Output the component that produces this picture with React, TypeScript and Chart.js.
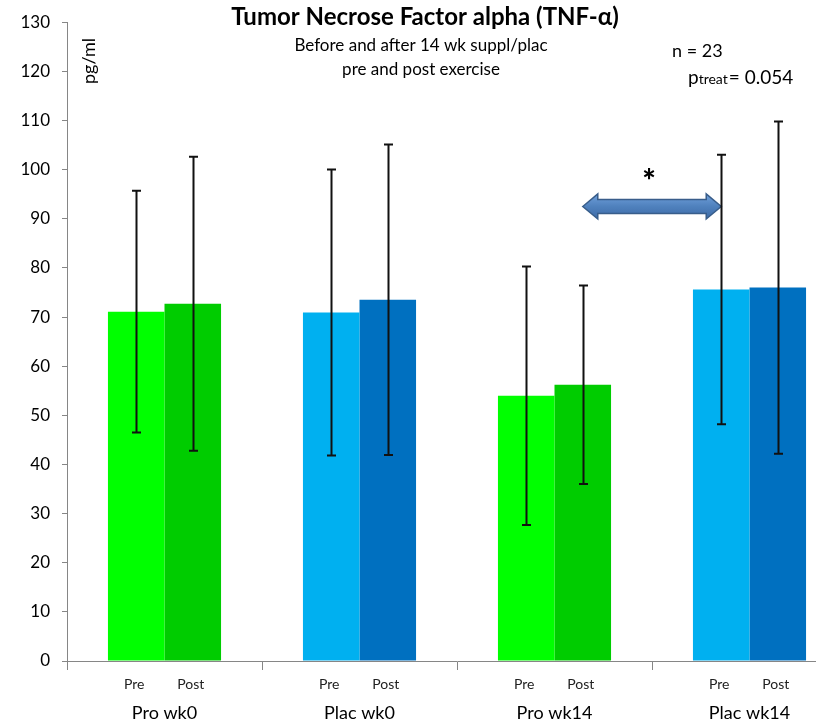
import React, { useEffect, useRef } from 'react';
import { Chart, registerables } from 'chart.js';

Chart.register(...registerables);

// ---- data ----
const groups = ['Pro wk0', 'Plac wk0', 'Pro wk14', 'Plac wk14'];
const phases = ['Pre', 'Post'];
const preMeans = [71.1, 70.9, 54.0, 75.6];
const postMeans = [72.7, 73.5, 56.2, 76.0];
const preSD = [24.6, 29.1, 26.3, 27.4];
const postSD = [29.9, 31.6, 20.2, 33.8];
const preColors = ['#00FF00', '#00B0F0', '#00FF00', '#00B0F0'];
const postColors = ['#00CC00', '#0070C0', '#00CC00', '#0070C0'];
const yMin = 0;
const yMax = 130;
const yStep = 10;
const titleText = 'Tumor Necrose Factor alpha (TNF-\u03b1)';
const subtitleLines = ['Before and after 14 wk suppl/plac', 'pre and post exercise'];
const unitLabel = 'pg/ml';
const nText = 'n = 23';
const pSub = 'treat';
const pValue = '= 0.054';
// significance arrow: from Pro wk14 Post (dataset 1, index 2) to Plac wk14 Pre (dataset 0, index 3)
const sigFrom = { dataset: 1, index: 2 };
const sigTo = { dataset: 0, index: 3 };
const sigLevel = 92.5;

const FONT = 'Lato, "Open Sans", sans-serif';

const overlayPlugin = {
  id: 'overlay',
  afterDatasetsDraw(chart: any) {
    const ctx = chart.ctx;
    const y = chart.scales.y;
    const area = chart.chartArea;
    const sds = [preSD, postSD];
    const means = [preMeans, postMeans];

    // arrow
    const m0 = chart.getDatasetMeta(sigFrom.dataset).data[sigFrom.index];
    const m1 = chart.getDatasetMeta(sigTo.dataset).data[sigTo.index];
    const x1 = m0.x;
    const x2 = m1.x;
    const ay = y.getPixelForValue(sigLevel);
    const hl = 15, hh = 12.5, sh = 7;
    ctx.save();
    ctx.beginPath();
    ctx.moveTo(x1, ay);
    ctx.lineTo(x1 + hl, ay - hh);
    ctx.lineTo(x1 + hl, ay - sh);
    ctx.lineTo(x2 - hl, ay - sh);
    ctx.lineTo(x2 - hl, ay - hh);
    ctx.lineTo(x2, ay);
    ctx.lineTo(x2 - hl, ay + hh);
    ctx.lineTo(x2 - hl, ay + sh);
    ctx.lineTo(x1 + hl, ay + sh);
    ctx.lineTo(x1 + hl, ay + hh);
    ctx.closePath();
    const g = ctx.createLinearGradient(0, ay - hh, 0, ay + hh);
    g.addColorStop(0, '#6f9fda');
    g.addColorStop(0.5, '#4f81bd');
    g.addColorStop(1, '#3d6aa6');
    ctx.fillStyle = g;
    ctx.fill();
    ctx.strokeStyle = '#385d8a';
    ctx.lineWidth = 1.5;
    ctx.stroke();
    ctx.fillStyle = '#000';
    ctx.font = `900 32px ${FONT}`;
    ctx.textAlign = 'center';
    ctx.textBaseline = 'middle';
    ctx.fillText('*', (x1 + x2) / 2 - 3, ay - 25);
    ctx.restore();

    // error bars
    ctx.save();
    ctx.strokeStyle = '#111';
    ctx.lineWidth = 2;
    for (let d = 0; d < 2; d++) {
      const meta = chart.getDatasetMeta(d);
      meta.data.forEach((bar: any, i: number) => {
        const top = y.getPixelForValue(means[d][i] + sds[d][i]);
        const bot = y.getPixelForValue(means[d][i] - sds[d][i]);
        const x = Math.round(bar.x) + 0.5;
        ctx.beginPath();
        ctx.moveTo(x, top);
        ctx.lineTo(x, bot);
        ctx.moveTo(x - 4.5, top);
        ctx.lineTo(x + 4.5, top);
        ctx.moveTo(x - 4.5, bot);
        ctx.lineTo(x + 4.5, bot);
        ctx.stroke();
      });
    }
    ctx.restore();

    // Pre / Post labels
    ctx.save();
    ctx.fillStyle = '#222';
    ctx.font = `14px ${FONT}`;
    ctx.textAlign = 'center';
    ctx.textBaseline = 'middle';
    for (let d = 0; d < 2; d++) {
      const meta = chart.getDatasetMeta(d);
      meta.data.forEach((bar: any) => {
        ctx.fillText(phases[d], bar.x - 2, area.bottom + 23);
      });
    }
    ctx.restore();

    // titles
    ctx.save();
    ctx.fillStyle = '#000';
    ctx.textAlign = 'center';
    ctx.textBaseline = 'middle';
    ctx.font = `bold 24px ${FONT}`;
    ctx.fillText(titleText, 425, 17);
    ctx.font = `17px ${FONT}`;
    ctx.fillText(subtitleLines[0], 421, 46);
    ctx.fillText(subtitleLines[1], 421, 70);

    // unit label
    ctx.save();
    ctx.translate(89, 61);
    ctx.rotate(-Math.PI / 2);
    ctx.font = `18px ${FONT}`;
    ctx.fillText(unitLabel, 0, 0);
    ctx.restore();

    // n and p annotation
    ctx.textAlign = 'left';
    ctx.textBaseline = 'alphabetic';
    ctx.font = `18px ${FONT}`;
    ctx.fillText(nText, 672, 57);
    let px = 688;
    ctx.font = `19px ${FONT}`;
    ctx.fillText('p', px, 84);
    px += ctx.measureText('p').width;
    ctx.font = `14px ${FONT}`;
    ctx.fillText(pSub, px, 84);
    px += ctx.measureText(pSub).width + 1;
    ctx.font = `19px ${FONT}`;
    ctx.fillText(pValue, px, 84);
    ctx.restore();
  },
};

export default function App() {
  const ref = useRef<HTMLCanvasElement>(null);
  useEffect(() => {
    if (!ref.current) return;
    const chart = new Chart(ref.current, {
      type: 'bar',
      data: {
        labels: groups,
        datasets: [
          { label: phases[0], data: preMeans, backgroundColor: preColors, borderWidth: 0 },
          { label: phases[1], data: postMeans, backgroundColor: postColors, borderWidth: 0 },
        ],
      },
      options: {
        animation: false,
        responsive: false,
        devicePixelRatio: 1,
        layout: { padding: { left: 0, top: 21, right: 13, bottom: 0 } },
        datasets: { bar: { barPercentage: 1, categoryPercentage: 0.58 } },
        plugins: {
          legend: { display: false },
          title: { display: false },
          tooltip: { enabled: false },
        },
        scales: {
          x: {
            grid: {
              display: true,
              drawOnChartArea: false,
              offset: true,
              tickLength: 9,
              color: '#868686',
            },
            border: { color: '#868686', width: 1 },
            ticks: {
              color: '#000',
              font: { family: FONT, size: 18 },
              padding: 32,
              maxRotation: 0,
            },
            afterFit: (s: any) => {
              s.height = 58;
            },
          },
          y: {
            min: yMin,
            max: yMax,
            grid: {
              display: true,
              drawOnChartArea: false,
              tickLength: 5,
              color: '#868686',
            },
            border: { color: '#868686', width: 1 },
            ticks: {
              stepSize: yStep,
              color: '#000',
              font: { family: FONT, size: 17 },
              padding: 12,
            },
            afterFit: (s: any) => {
              s.width = 67;
            },
          },
        },
      },
      plugins: [overlayPlugin],
    });
    return () => chart.destroy();
  }, []);
  return (
    <div
      style={{
        position: 'fixed',
        left: 0,
        top: 0,
        width: 816,
        height: 719,
        overflow: 'hidden',
        background: '#fff',
      }}
    >
      <canvas ref={ref} width={860} height={719} style={{ display: 'block' }} />
    </div>
  );
}
